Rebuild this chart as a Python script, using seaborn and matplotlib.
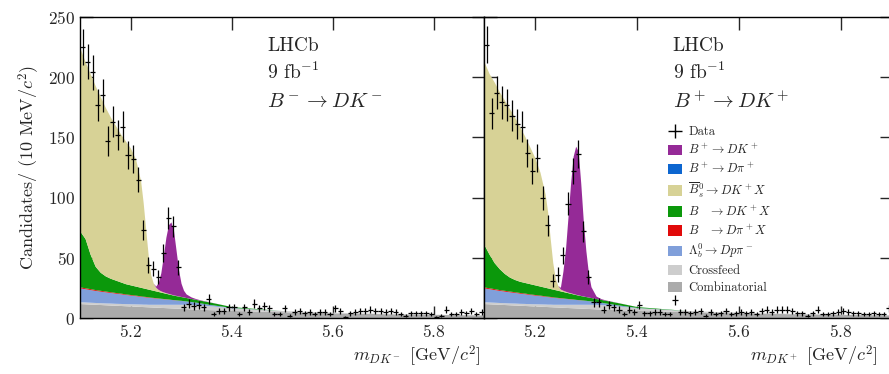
import numpy as np
import matplotlib
matplotlib.use("Agg")
import matplotlib.pyplot as plt
import seaborn as sns
from matplotlib.patches import Patch
from matplotlib.lines import Line2D

# binned data, 10 MeV bins from 5.10 to 5.90 GeV
bin_edges = np.linspace(5.10, 5.90, 81)
bin_centres = 0.5 * (bin_edges[:-1] + bin_edges[1:])

data_minus = [225, 213, 204, 177, 185, 147, 163, 152, 159, 135,
              132, 115, 73, 44, 41, 34, 54, 83, 76, 42,
              9, 12, 10, 11, 9, 16, 3, 6, 6, 9,
              9, 3, 9, 5, 12, 8, 10, 8, 3, 3,
              8, 2, 5, 6, 4, 5, 3, 5, 5, 3,
              8, 6, 1, 4, 5, 6, 6, 7, 6, 6,
              5, 6, 5, 3, 2, 4, 4, 4, 4, 3,
              1, 2, 7, 3, 3, 5, 4, 6, 3, 5]
data_plus = [227, 170, 187, 179, 177, 168, 161, 159, 137, 122,
             133, 100, 77, 31, 36, 52, 95, 122, 136, 72,
             34, 13, 13, 7, 11, 9, 7, 3, 7, 5,
             11, 4, 4, 5, 5, 3, 3, 15, 5, 5,
             4, 5, 6, 2, 5, 3, 4, 6, 3, 4,
             5, 4, 5, 3, 6, 7, 5, 7, 7, 7,
             6, 4, 4, 2, 4, 7, 3, 3, 4, 5,
             6, 5, 4, 4, 3, 3, 4, 3, 3, 8]

# fit components (candidates per 10 MeV) at these masses
fit_mass = [5.100, 5.110, 5.120, 5.130, 5.140, 5.150, 5.160, 5.170, 5.180, 5.190,
            5.200, 5.210, 5.220, 5.225, 5.230, 5.235, 5.240, 5.245, 5.250, 5.255,
            5.260, 5.265, 5.270, 5.275, 5.280, 5.285, 5.290, 5.295, 5.300, 5.305,
            5.310, 5.320, 5.330, 5.340, 5.360, 5.400, 5.500, 5.600, 5.700, 5.800, 5.900]
comb = [12.0, 11.8, 11.6, 11.4, 11.2, 11.0, 10.8, 10.6, 10.4, 10.2,
        10.0, 9.8, 9.6, 9.5, 9.4, 9.3, 9.2, 9.1, 9.0, 8.9,
        8.8, 8.7, 8.6, 8.5, 8.4, 8.3, 8.2, 8.1, 8.0, 7.9,
        7.8, 7.6, 7.4, 7.2, 6.9, 6.3, 5.2, 4.3, 3.6, 3.0, 2.5]
crossfeed = [1.5, 1.5, 1.5, 1.5, 1.5, 1.5, 1.6, 1.6, 1.7, 1.7,
             1.8, 1.9, 2.0, 2.0, 2.1, 2.1, 2.2, 2.3, 2.4, 2.5,
             2.6, 2.7, 2.8, 2.9, 3.0, 3.1, 3.2, 3.3, 3.4, 3.5,
             3.6, 3.7, 3.7, 3.6, 3.2, 2.2, 1.0, 0.5, 0.3, 0.2, 0.1]
lambdab = [11.5, 11.0, 10.5, 10.0, 9.6, 9.2, 8.8, 8.4, 8.0, 7.6,
           7.2, 6.8, 6.4, 6.2, 6.0, 5.8, 5.6, 5.4, 5.2, 5.0,
           4.8, 4.6, 4.4, 4.2, 4.0, 3.8, 3.6, 3.4, 3.2, 3.0,
           2.8, 2.4, 2.0, 1.6, 1.0, 0.3, 0, 0, 0, 0, 0]
b_dpix = [0.8, 0.8, 0.8, 0.7, 0.7, 0.7, 0.6, 0.6, 0.6, 0.5,
          0.5, 0.5, 0.4, 0.4, 0.4, 0.4, 0.3, 0.3, 0.3, 0.3,
          0.2, 0.2, 0.2, 0.2, 0.1, 0.1, 0.1, 0.1, 0.1, 0,
          0, 0, 0, 0, 0, 0, 0, 0, 0, 0, 0]
bu_dpi = [0] * 41
green_minus = [46.2, 40.9, 28.6, 19.4, 15.0, 12.6, 11.2, 10.3, 9.3, 8.5,
               8.0, 7.5, 7.1, 6.9, 6.6, 6.4, 6.2, 5.9, 5.6, 5.3,
               5.1, 4.8, 4.5, 4.2, 4.0, 3.7, 3.5, 3.3, 3.1, 3.0,
               2.8, 2.5, 2.3, 2.2, 1.9, 0.7, 0, 0, 0, 0, 0]
green_plus = [35.2, 27.9, 21.6, 17.4, 14.0, 11.6, 10.2, 9.3, 8.8, 8.5,
              8.0, 7.5, 7.1, 6.9, 6.6, 6.4, 6.2, 5.9, 5.6, 5.3,
              5.1, 4.8, 4.5, 4.2, 4.0, 3.7, 3.5, 3.3, 3.1, 3.0,
              2.8, 2.5, 2.3, 2.2, 1.9, 0.7, 0, 0, 0, 0, 0]
bs_minus = [152, 147, 150, 150, 146, 140, 134, 128.5, 123, 118.5,
            113.5, 105.5, 88.5, 71, 49.5, 28, 12.5, 6, 3, 1.6,
            1.0, 0.7, 0.5, 0.4, 0.3, 0.2, 0.2, 0.1, 0.1, 0.1,
            0, 0, 0, 0, 0, 0, 0, 0, 0, 0, 0]
bs_plus = [152, 150, 150, 147, 144, 140, 135, 128.5, 121.5, 113.5,
           105.5, 94.5, 77.5, 63, 41.5, 22, 9.5, 4, 1.5, 1.0,
           0.7, 0.5, 0.4, 0.3, 0.2, 0.2, 0.1, 0.1, 0, 0,
           0, 0, 0, 0, 0, 0, 0, 0, 0, 0, 0]
sig_minus = [0, 0, 0, 0, 0, 0, 0, 0, 0, 0,
             0, 0, 0, 0, 0, 0, 0, 0, 1.0, 6,
             15, 30, 46, 57, 60, 54, 38, 22, 11, 5.5,
             3, 1.3, 0.6, 0.3, 0.1, 0, 0, 0, 0, 0, 0]
sig_plus = [0, 0, 0, 0, 0, 0, 0, 0, 0, 0,
            0, 0, 0, 0, 0, 0, 0, 0, 1.5, 16,
            35, 63, 91, 114, 123, 119, 93, 62, 38, 20,
            9, 2, 0.6, 0.3, 0.1, 0, 0, 0, 0, 0, 0]

labels = [r"$B^+ \to DK^+$", r"$B^+ \to D\pi^+$", r"$\overline{B}{}^0_s \to DK^+X$",
          r"$B\ \ \ \to DK^+X$", r"$B\ \ \ \to D\pi^+X$", r"$\Lambda_b^0 \to Dp\pi^-$",
          "Crossfeed", "Combinatorial"]
colors = ["#952a97", "#0d66d0", "#d7d296", "#0b980b", "#e10a0a", "#809fda",
          "#cdcdcd", "#ababab"]

sns.set_style("ticks")
plt.rcParams["font.family"] = ["cmr10"]
plt.rcParams["mathtext.fontset"] = "cm"
plt.rcParams["axes.formatter.use_mathtext"] = True

fig = plt.figure(figsize=(8.89, 3.74), dpi=100)
ax1 = fig.add_axes([0.090, 0.1497, 0.4545, 0.805])
ax2 = fig.add_axes([0.5444, 0.1497, 0.4585, 0.805])

panels = [
    (ax1, data_minus, green_minus, bs_minus, sig_minus, r"$B^- \to DK^-$",
     r"$m_{DK^-}$ [GeV/$c^2$]", 0.99),
    (ax2, data_plus, green_plus, bs_plus, sig_plus, r"$B^+ \to DK^+$",
     r"$m_{DK^+}$ [GeV/$c^2$]", 0.965),
]

for ax, data, green, bs, sig, decay, xlab, xlab_x in panels:
    # stacked fit components, bottom to top
    stack = [(comb, colors[7]), (crossfeed, colors[6]), (lambdab, colors[5]),
             (b_dpix, colors[4]), (green, colors[3]), (bu_dpi, colors[1]),
             (bs, colors[2]), (sig, colors[0])]
    base = np.zeros(len(fit_mass))
    for comp, col in stack:
        top = base + np.array(comp, dtype=float)
        ax.fill_between(fit_mass, base, top, color=col, lw=0)
        base = top

    yerr = np.sqrt(np.array(data, dtype=float))
    ax.errorbar(bin_centres, data, yerr=yerr, xerr=0.005, fmt="none",
                ecolor="black", elinewidth=0.9, capsize=0)

    ax.set_xlim(5.10, 5.90)
    ax.set_ylim(0, 250)
    ax.set_xticks([5.2, 5.4, 5.6, 5.8])
    ax.set_yticks([0, 50, 100, 150, 200, 250])
    ax.tick_params(direction="in", length=9, width=1.0, top=True, right=True,
                   labelsize=12.5)
    for sp in ax.spines.values():
        sp.set_linewidth(1.0)
        sp.set_color("black")
    ax.set_xlabel(xlab, fontsize=13, ha="right")
    ax.xaxis.set_label_coords(xlab_x, -0.085)

    ax.text(0.463, 0.905, "LHCb", transform=ax.transAxes, fontsize=14, va="center")
    ax.text(0.463, 0.817, r"9 fb$^{-1}$", transform=ax.transAxes, fontsize=14, va="center")
    ax.text(0.463, 0.718, decay, transform=ax.transAxes, fontsize=15, va="center")

ax1.set_ylabel(r"Candidates/ (10 MeV/$c^2$)", fontsize=13)
ax2.tick_params(labelleft=False)

handles = [Line2D([], [], color="black", marker="+", markersize=10,
                  markeredgewidth=1.0, linestyle="none")]
handles += [Patch(facecolor=c, edgecolor="none") for c in colors]
ax2.legend(handles, ["Data"] + labels, loc="upper left", bbox_to_anchor=(0.44, 0.655),
           frameon=False, fontsize=9, handlelength=1.1, handleheight=0.9,
           handletextpad=0.5, labelspacing=0.36, borderaxespad=0)

fig.savefig("out.png", dpi=100)
